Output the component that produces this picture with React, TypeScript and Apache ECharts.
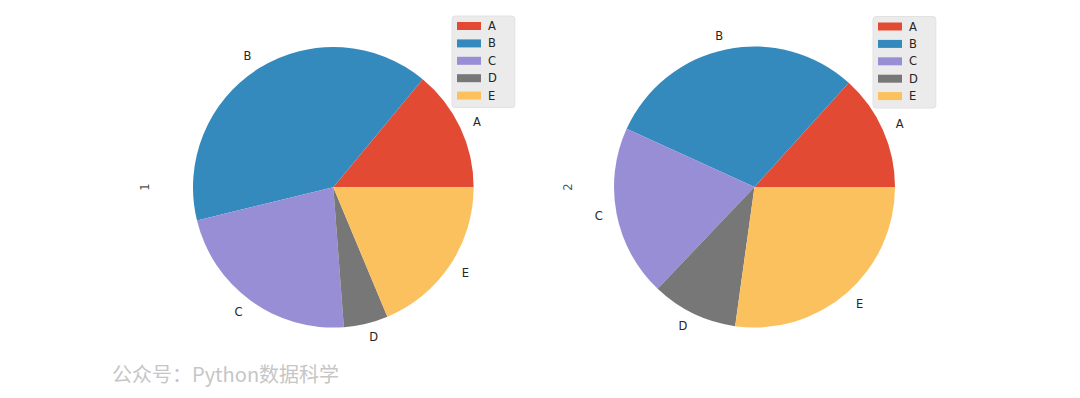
import React, { useEffect, useRef } from "react";
import * as echarts from "echarts";

const categories = ["A", "B", "C", "D", "E"];
const series1Values = [0.14, 0.398, 0.224, 0.051, 0.187];
const series2Values = [0.133, 0.299, 0.197, 0.099, 0.272];
const seriesNames = ["1", "2"];
const colors = ["#E24A33", "#348ABD", "#988ED5", "#777777", "#FBC15E"];
const watermark = "公众号：Python数据科学";

const labelFont = "DejaVu Sans, Liberation Sans, sans-serif";

function makePie(name: string, values: number[], cx: number, cy: number, r: number) {
  return {
    type: "pie",
    name,
    center: [cx, cy],
    radius: r,
    startAngle: 0,
    clockwise: false,
    avoidLabelOverlap: false,
    silent: true,
    data: categories.map((c, i) => ({ name: c, value: values[i], itemStyle: { color: colors[i] } })),
    label: {
      show: true,
      position: "outside",
      formatter: "{b}",
      color: "#262626",
      fontSize: 11.5,
      fontFamily: labelFont,
      distanceToLabelLine: 0,
    },
    labelLine: { show: false, length: r * 0.1, length2: 0 },
    itemStyle: { borderWidth: 0 },
    emphasis: { disabled: true },
  };
}

function makeLegend(left: number, top: number) {
  return {
    orient: "vertical",
    left,
    top,
    data: categories,
    icon: "rect",
    itemWidth: 24,
    itemHeight: 8,
    itemGap: 5.4,
    padding: [4, 18, 6, 5],
    backgroundColor: "#ebebeb",
    borderColor: "#e2e2e2",
    borderWidth: 1,
    borderRadius: 3,
    selectedMode: false,
    textStyle: {
      color: "#262626",
      fontSize: 11.5,
      lineHeight: 12,
      fontFamily: labelFont,
      padding: [0, 0, 0, 2],
    },
  };
}

export default function App() {
  const ref = useRef<HTMLDivElement>(null);
  useEffect(() => {
    document.body.style.margin = "0";
    const chart = echarts.init(ref.current!, undefined, { renderer: "svg" });
    chart.setOption({
      animation: false,
      backgroundColor: "#ffffff",
      legend: [makeLegend(452, 16), makeLegend(873, 16.5)],
      series: [
        makePie(seriesNames[0], series1Values, 333.3, 187.3, 140.3),
        makePie(seriesNames[1], series2Values, 754.5, 187, 140.5),
      ],
      graphic: [
        {
          type: "text",
          x: 145,
          y: 187,
          rotation: Math.PI / 2,
          style: {
            text: seriesNames[0],
            fill: "#555555",
            fontSize: 11.5,
            fontFamily: labelFont,
            align: "center",
            verticalAlign: "middle",
          },
        },
        {
          type: "text",
          x: 568,
          y: 187,
          rotation: Math.PI / 2,
          style: {
            text: seriesNames[1],
            fill: "#555555",
            fontSize: 11.5,
            fontFamily: labelFont,
            align: "center",
            verticalAlign: "middle",
          },
        },
        {
          type: "text",
          x: 112,
          y: 373,
          style: {
            text: watermark,
            fill: "#c6c6c6",
            fontSize: 20,
            fontFamily: "Noto Sans CJK SC, Noto Sans, sans-serif",
            align: "left",
            verticalAlign: "middle",
          },
        },
      ],
    });
    return () => chart.dispose();
  }, []);
  return <div ref={ref} style={{ position: "absolute", left: 0, top: 0, width: 1080, height: 398 }} />;
}
